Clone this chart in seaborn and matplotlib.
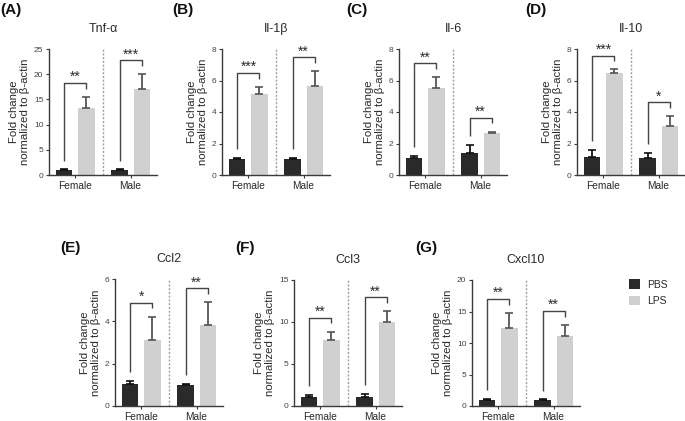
import matplotlib
matplotlib.use("Agg")
import matplotlib.pyplot as plt
import seaborn as sns
import pandas as pd
from matplotlib.patches import Patch

# ---------------- data ----------------
sexes = ["Female", "Male"]
treatments = ["PBS", "LPS"]
panel_ids = ["(A)", "(B)", "(C)", "(D)", "(E)", "(F)", "(G)"]
genes = ["Tnf-\u03b1", "Il-1\u03b2", "Il-6", "Il-10", "Ccl2", "Ccl3", "Cxcl10"]
y_max = [25, 8, 8, 8, 6, 15, 20]
y_step = [5, 2, 2, 2, 2, 5, 5]

# means [Female, Male]
pbs_mean = [[1.0, 1.0], [1.02, 1.02], [1.05, 1.4], [1.15, 1.1], [1.04, 1.0], [1.1, 1.1], [1.0, 1.0]]
lps_mean = [[13.3, 17.0], [5.15, 5.65], [5.5, 2.65], [6.5, 3.1], [3.12, 3.83], [7.9, 10.0], [12.4, 11.1]]
# SEM (upper error) [Female, Male]
pbs_sem = [[0.1, 0.1], [0.06, 0.06], [0.17, 0.5], [0.45, 0.3], [0.14, 0.04], [0.25, 0.3], [0.1, 0.05]]
lps_sem = [[2.2, 3.0], [0.45, 0.95], [0.7, 0.1], [0.2, 0.65], [1.1, 1.07], [0.95, 1.3], [2.4, 1.8]]
# significance stars [Female, Male]
stars = [["**", "***"], ["***", "**"], ["**", "**"], ["***", "*"], ["*", "**"], ["**", "**"], ["**", "**"]]

rows = []
for p, g in enumerate(genes):
    for s, sex in enumerate(sexes):
        rows.append(dict(gene=g, sex=sex, treat="PBS", mean=pbs_mean[p][s], sem=pbs_sem[p][s]))
        rows.append(dict(gene=g, sex=sex, treat="LPS", mean=lps_mean[p][s], sem=lps_sem[p][s]))
df = pd.DataFrame(rows)

# ---------------- style ----------------
sns.set_theme(style="ticks")
plt.rcParams["font.family"] = ["Liberation Sans", "DejaVu Sans"]
TXT = "#2a2a2a"
SP = "#3a3a3a"
c_pbs = "#2a2a2a"
c_lps = "#d0d0d0"

W, H = 685, 421
fig = plt.figure(figsize=(W / 100, H / 100), dpi=100)

# axes boxes in pixels: (left, top, bottom)
boxes = [(49, 49, 175), (222, 49, 175), (399, 49, 175), (577, 49, 175),
         (115, 279, 406), (294, 280, 406), (472, 280, 406)]
ax_w = 108
label_pos = [(0, 10), (172, 10), (346, 10), (525, 10), (60, 248), (235, 248), (415, 248)]

for p, g in enumerate(genes):
    l, t, b = boxes[p]
    ax = fig.add_axes([l / W, 1 - b / H, ax_w / W, (b - t) / H])
    sub = df[df.gene == g]
    sns.barplot(data=sub, x="sex", y="mean", hue="treat", order=sexes, hue_order=treatments,
                palette=[c_pbs, c_lps], gap=0.27, errorbar=None, ax=ax, legend=False,
                saturation=1, linewidth=0)
    ym = y_max[p]
    tops = {}
    bar_conts = list(ax.containers)[:2]
    for i, cont in enumerate(bar_conts):
        tr = treatments[i]
        for s, bar in enumerate(cont):
            x = bar.get_x() + bar.get_width() / 2
            h = bar.get_height()
            e = sub[(sub.sex == sexes[s]) & (sub.treat == tr)]["sem"].values[0]
            ecol = "#111111" if tr == "PBS" else "#555555"
            ax.errorbar(x, h, yerr=[[0], [e]], fmt="none", ecolor=ecol, elinewidth=1.3,
                        capsize=3, capthick=1.2, zorder=1)
            tops[(tr, s)] = (x, h + e)
    # brackets
    for s in range(2):
        x1, t1 = tops[("PBS", s)]
        x2, t2 = tops[("LPS", s)]
        top = t2 + 0.11 * ym
        top = min(top, 0.955 * ym)
        ax.plot([x1, x1, x2, x2], [t1 + 0.07 * ym, top, top, top - 0.045 * ym],
                color="#444444", lw=1.0, solid_capstyle="butt", clip_on=False)
        ax.text((x1 + x2) / 2, top - 0.01 * ym, stars[p][s], ha="center", va="bottom",
                fontsize=10, color=TXT)
    ax.axvline(0.5, color="#a0a0a0", lw=1.0, ls=(0, (1.5, 1.2)), zorder=0)
    ax.set_xlim(-0.48, 1.48)
    ax.set_ylim(0, ym)
    ax.set_yticks(list(range(0, ym + 1, y_step[p])))
    ax.set_xlabel("")
    ax.set_ylabel("Fold change\nnormalized to \u03b2-actin", fontsize=8.2, color=TXT, labelpad=3,
                  linespacing=1.05)
    ax.set_title(g, fontsize=9, color=TXT, pad=12)
    for sp in ["top", "right"]:
        ax.spines[sp].set_visible(False)
    for sp in ["left", "bottom"]:
        ax.spines[sp].set_color(SP)
        ax.spines[sp].set_linewidth(1.0)
    ax.tick_params(axis="y", labelsize=6, length=2.5, width=0.8, colors=SP, labelcolor="#444444", pad=1.5)
    ax.tick_params(axis="x", labelsize=7.3, length=2.5, width=0.8, colors=SP, labelcolor=TXT, pad=1.5)
    lx, ly = label_pos[p]
    fig.text(lx / W, 1 - ly / H, panel_ids[p], fontsize=11, fontweight="bold",
             ha="left", va="center", color="#111111")

handles = [Patch(facecolor=c_pbs, edgecolor="none", label="PBS"),
           Patch(facecolor=c_lps, edgecolor="none", label="LPS")]
fig.legend(handles=handles, loc="upper left", bbox_to_anchor=(620 / W, 1 - 270 / H), frameon=False,
           fontsize=7.5, handlelength=1.0, handleheight=1.0, handletextpad=0.7, labelspacing=0.6,
           labelcolor=TXT)

fig.savefig("out.png", dpi=100)
